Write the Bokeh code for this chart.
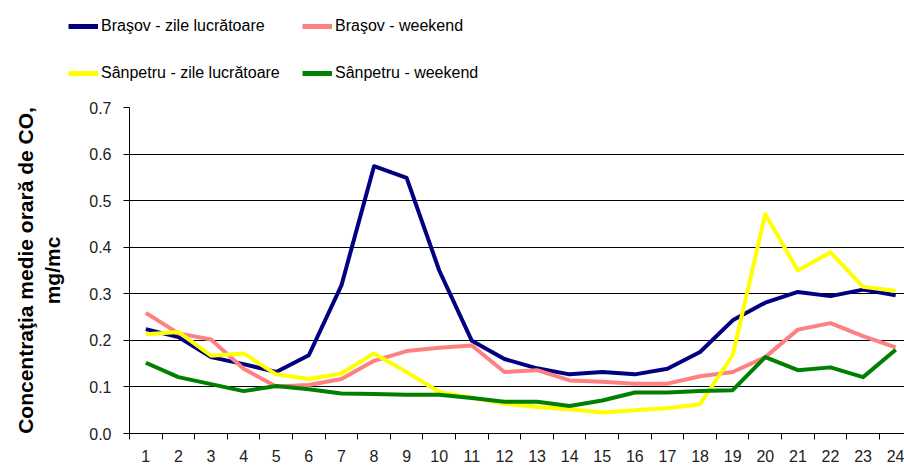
from bokeh.plotting import figure
from bokeh.models import (Range1d, FixedTicker, PrintfTickFormatter, Legend, LegendItem)
from bokeh.embed import file_html
from bokeh.resources import INLINE

hours = list(range(1, 25))
hour_labels = [str(h) for h in hours]
y_ticks = [0.0, 0.1, 0.2, 0.3, 0.4, 0.5, 0.6, 0.7]

brasov_lucru = [0.224, 0.207, 0.164, 0.149, 0.132, 0.168, 0.318, 0.574, 0.549, 0.350, 0.199, 0.160,
                0.140, 0.127, 0.132, 0.127, 0.139, 0.175, 0.243, 0.281, 0.304, 0.295, 0.309, 0.297]
brasov_weekend = [0.259, 0.215, 0.202, 0.139, 0.101, 0.104, 0.117, 0.156, 0.177, 0.184, 0.189, 0.132,
                  0.136, 0.114, 0.111, 0.107, 0.107, 0.123, 0.132, 0.164, 0.223, 0.237, 0.209, 0.185]
sanpetru_lucru = [0.213, 0.218, 0.167, 0.172, 0.127, 0.117, 0.129, 0.172, 0.132, 0.089, 0.077, 0.064,
                  0.057, 0.052, 0.045, 0.050, 0.054, 0.063, 0.168, 0.471, 0.350, 0.389, 0.315, 0.306]
sanpetru_weekend = [0.152, 0.121, 0.106, 0.091, 0.102, 0.095, 0.086, 0.085, 0.083, 0.083, 0.076, 0.068,
                    0.068, 0.059, 0.071, 0.088, 0.088, 0.091, 0.093, 0.164, 0.136, 0.142, 0.121, 0.180]

series_names = ["Braşov - zile lucrătoare", "Braşov - weekend",
                "Sânpetru - zile lucrătoare", "Sânpetru - weekend"]
series_colors = ["#000080", "#FF8080", "#FFFF00", "#008000"]
LINE_W = 4
NAN = float("nan")

# ---------------- legend strip (separate root, no frame alignment) ----------------
pl = figure(width=904, height=99, output_backend="svg", toolbar_location=None,
            x_range=Range1d(0, 1), y_range=Range1d(0, 1),
            x_axis_location=None, y_axis_location=None, min_border=0)
pl.outline_line_color = None
pl.xgrid.grid_line_color = None
pl.ygrid.grid_line_color = None
leg_renderers = [pl.line([NAN], [NAN], line_color=c, line_width=5) for c in series_colors]

def make_legend(items, x, y):
    return Legend(items=items, location=(x, y), orientation="vertical",
                  glyph_width=30, glyph_height=20, label_height=20, spacing=27,
                  label_standoff=3, padding=0, margin=0,
                  border_line_color=None, background_fill_alpha=0,
                  label_text_font="Liberation Sans", label_text_font_size="16px",
                  label_text_color="black")

leg_a = make_legend([LegendItem(label=series_names[0], renderers=[leg_renderers[0]]),
                     LegendItem(label=series_names[2], renderers=[leg_renderers[2]])], 68, 16)
leg_b = make_legend([LegendItem(label=series_names[1], renderers=[leg_renderers[1]]),
                     LegendItem(label=series_names[3], renderers=[leg_renderers[3]])], 302, 16)
pl.add_layout(leg_a, "center")
pl.add_layout(leg_b, "center")

# ---------------- main chart ----------------
p = figure(width=904, height=369, output_backend="svg", toolbar_location=None,
           x_range=Range1d(0.5, 24.27), y_range=Range1d(0, 0.7),
           min_border_left=129, min_border_top=8, min_border_right=0, min_border_bottom=35)
p.outline_line_color = None
p.background_fill_color = "white"

for vals, col in zip([brasov_lucru, brasov_weekend, sanpetru_lucru, sanpetru_weekend], series_colors):
    p.line(hours, vals, line_color=col, line_width=LINE_W, line_join="round")

p.xgrid.grid_line_color = None
p.ygrid.grid_line_color = "black"
p.ygrid.grid_line_width = 1
p.ygrid.ticker = FixedTicker(ticks=y_ticks)

xa = p.xaxis[0]
xa.ticker = FixedTicker(ticks=hours, minor_ticks=[h - 0.5 for h in hours])
xa.major_label_overrides = {h: lab for h, lab in zip(hours, hour_labels)}
xa.major_tick_line_color = None
xa.major_tick_out = 6
xa.major_tick_in = 0
xa.minor_tick_line_color = "black"
xa.minor_tick_out = 6
xa.minor_tick_in = 0
xa.axis_line_color = "black"
xa.major_label_standoff = 10
xa.major_label_text_font = "Liberation Sans"
xa.major_label_text_font_size = "16px"
xa.major_label_text_color = "#222222"

ya = p.yaxis[0]
ya.ticker = FixedTicker(ticks=y_ticks)
ya.formatter = PrintfTickFormatter(format="%.1f")
ya.major_tick_line_color = "black"
ya.major_tick_out = 6
ya.major_tick_in = 0
ya.minor_tick_line_color = None
ya.axis_line_color = "black"
ya.major_label_standoff = 12
ya.major_label_text_font = "Liberation Sans"
ya.major_label_text_font_size = "16px"
ya.major_label_text_color = "#222222"
ya.axis_label = "Concentraţia medie orară de CO,\nmg/mc"
ya.axis_label_text_font = "Liberation Sans"
ya.axis_label_text_font_style = "bold"
ya.axis_label_text_font_size = "21px"
ya.axis_label_text_color = "black"
ya.axis_label_standoff = 22

open("out.html", "w").write(file_html([pl, p], INLINE))
